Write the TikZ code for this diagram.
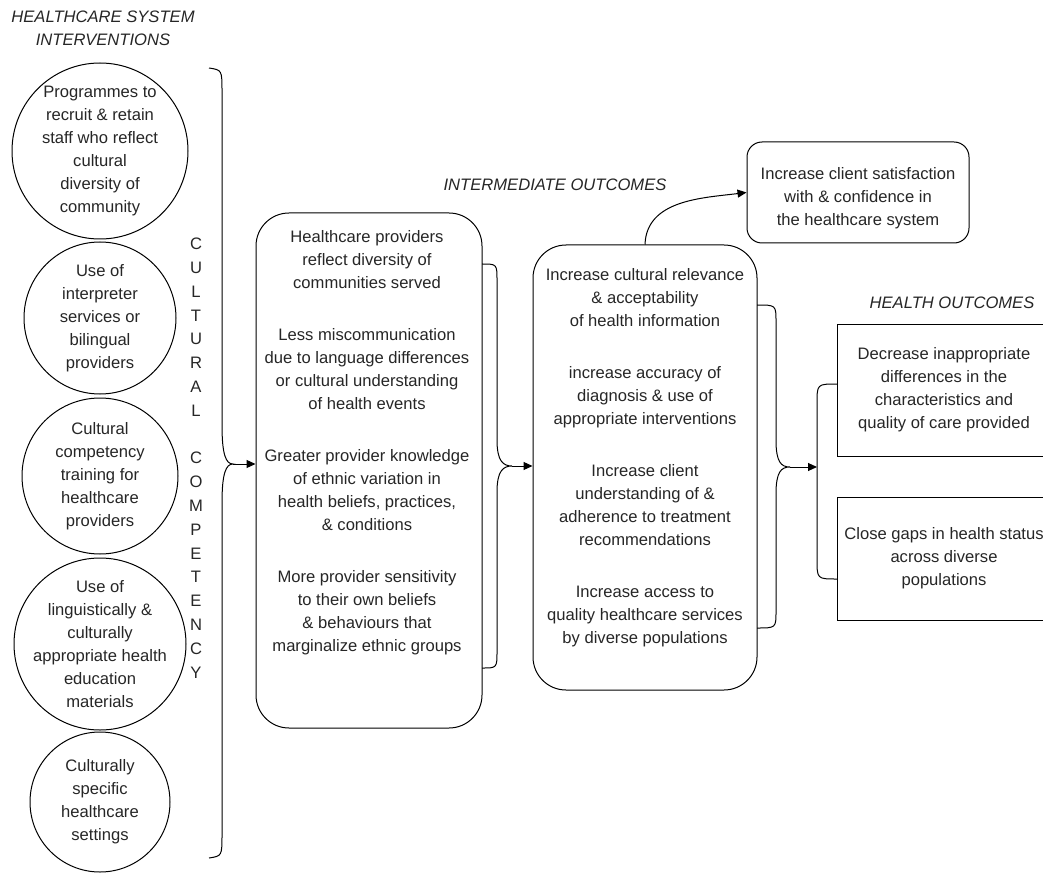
\documentclass[tikz,border=0pt]{standalone}
\usepackage{fontspec}
\setmainfont{Liberation Sans}
\usetikzlibrary{arrows.meta,shapes.geometric,positioning}

\begin{document}
\begin{tikzpicture}[x=1pt,y=-1pt,
    every node/.style={font=\fontsize{16.6}{23}\selectfont, text=black!85},
    ring/.style={draw, circle, line width=1pt, minimum size=#1, inner sep=0pt},
    ringtext/.style={align=center, inner sep=0pt},
    rbox/.style={draw, rounded corners=33pt, line width=1pt},
    otext/.style={align=center, inner sep=0pt, anchor=north},
    hbox/.style={draw, line width=1pt, align=center, minimum width=214pt},
    head/.style={font=\fontsize{16.6}{23}\selectfont\itshape, align=center, inner sep=0pt},
    link/.style={-{Triangle[length=9pt,width=8pt]}, line width=1pt},
    curl/.style={line width=1pt}]
    \useasboundingbox (0,0) rectangle (1043,882);
    \clip (0,0) rectangle (1043,882);

    % headings
    \node[head] (hsi) at (103,28.5) {HEALTHCARE SYSTEM\\INTERVENTIONS};
    \node[head] (imo) at (555,185) {INTERMEDIATE OUTCOMES};
    \node[head] (hlo) at (952,303) {HEALTH OUTCOMES};

    % interventions
    \node[ring=176pt] (recruit) at (100,151) {};
    \node[ringtext] (recruittxt) at (recruit) {Programmes to\\recruit \& retain\\staff who reflect\\cultural\\diversity of\\community};
    \node[ring=152pt] (interp) at (100,318) {};
    \node[ringtext] (interptxt) at (interp) {Use of\\interpreter\\services or\\bilingual\\providers};
    \node[ring=156pt] (training) at (100,476) {};
    \node[ringtext] (trainingtxt) at (training) {Cultural\\competency\\training for\\healthcare\\providers};
    \node[ring=172pt] (materials) at (100,644) {};
    \node[ringtext] (materialstxt) at (materials) {Use of\\linguistically \&\\culturally\\appropriate health\\education\\materials};
    \node[ring=140pt] (settings) at (100,802) {};
    \node[ringtext] (settingstxt) at (settings) {Culturally\\specific\\healthcare\\settings};

    \foreach \ch [count=\i from 0] in {C,U,L,T,U,R,A,L,{},C,O,M,P,E,T,E,N,C,Y}
        \node (cc\i) at (196,{244+23.8*\i}) {\ch};

    % intermediate outcomes
    \node[rbox, minimum width=226pt, minimum height=515pt] (prov) at (369,470.5) {};
    \node[otext] (provtxt) at (367,230) {Healthcare providers\\reflect diversity of\\communities served\\[29pt]Less miscommunication\\due to language differences\\or cultural understanding\\of health events\\[29pt]Greater provider knowledge\\of ethnic variation in\\health beliefs, practices,\\\& conditions\\[29pt]More provider sensitivity\\to their own beliefs\\\& behaviours that\\marginalize ethnic groups};

    \node[rbox, minimum width=224pt, minimum height=445pt] (interm) at (645,467.5) {};
    \node[otext] (intermtxt) at (645,268) {Increase cultural relevance\\\& acceptability\\of health information\\[29pt]increase accuracy of\\diagnosis \& use of\\appropriate interventions\\[29pt]Increase client\\understanding of \&\\adherence to treatment\\recommendations\\[29pt]Increase access to\\quality healthcare services\\by diverse populations};

    \node[rbox, rounded corners=15pt, minimum width=222pt, minimum height=101pt] (sat) at (858,192.5) {};
    \node[ringtext] (sattxt) at (858,198) {Increase client satisfaction\\with \& confidence in\\the healthcare system};

    % health outcomes
    \node[hbox, minimum height=132pt] (hbad) at (944,390) {Decrease inappropriate\\differences in the\\characteristics and\\quality of care provided};
    \node[hbox, minimum height=123pt] (hgap) at (944,558.5) {Close gaps in health status\\across diverse\\populations};

    % braces
    \coordinate (ltip) at (233,464);
    \coordinate (ptip) at (512,466);
    \coordinate (itip) at (790,467);
    \coordinate (hbar) at (817,467);
    \draw[curl] (209,68) .. controls (222,70) .. (222,92) -- (222,425)
        .. controls (222,455) and (226,464) .. (ltip)
        .. controls (226,464) and (222,473) .. (222,503) -- (222,834)
        .. controls (222,856) .. (209,858);
    \draw[curl] (482,264) .. controls (497,264) .. (497,281) -- (497,440)
        .. controls (497,461) and (503,466) .. (ptip)
        .. controls (503,466) and (497,471) .. (497,492) -- (497,651)
        .. controls (497,668) .. (482,668);
    \draw[curl] (757,305) .. controls (776,305) .. (776,322) -- (776,440)
        .. controls (776,462) and (781,467) .. (itip)
        .. controls (781,467) and (776,472) .. (776,494) -- (776,611)
        .. controls (776,628) .. (757,628);
    \draw[curl] (837,384) .. controls (817,384) .. (817,404) -- (817,559)
        .. controls (817,579) .. (837,579);

    % arrows
    \draw[link] (ltip) -- (prov.west |- ltip);
    \draw[link] (ptip) -- (interm.west |- ptip);
    \draw[link] (itip) -- (hbar);
    \draw[link] (interm.north) to[out=88,in=187] (sat.west);
\end{tikzpicture}
\end{document}
